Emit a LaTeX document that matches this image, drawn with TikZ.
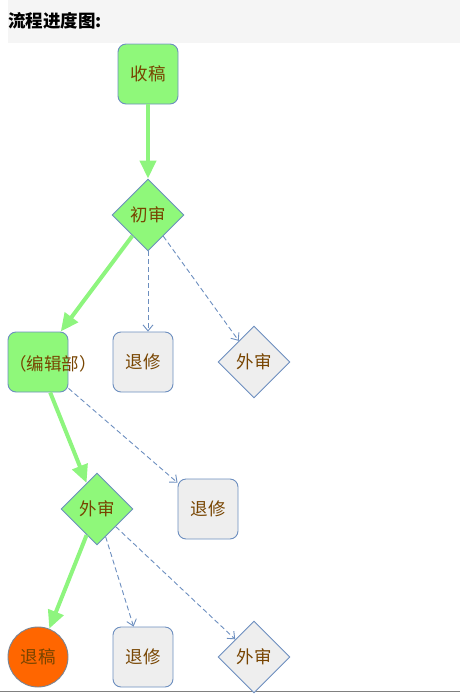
\documentclass[tikz,border=0pt]{standalone}
\usepackage{fontspec}
\newfontfamily\cjk{Noto Sans CJK SC}
\usetikzlibrary{shapes.geometric,arrows.meta}
\definecolor{gfill}{HTML}{8FF87A}
\definecolor{gline}{HTML}{8EF57E}
\definecolor{bord}{HTML}{6C8EBF}
\definecolor{txt}{HTML}{774400}
\definecolor{gray1}{HTML}{EEEEEE}
\definecolor{hdr}{HTML}{F5F5F5}
\definecolor{org}{HTML}{FF6600}
\tikzset{
  base/.style={draw=bord, line width=0.9pt, text=txt, font=\cjk\fontsize{17.5}{20}\selectfont, inner sep=0pt},
  gbox/.style={base, fill=gfill, rectangle, rounded corners=8pt, minimum width=60pt, minimum height=60pt},
  wbox/.style={base, fill=gray1, rectangle, rounded corners=8pt, minimum width=60pt, minimum height=60pt},
  gdia/.style={base, fill=gfill, diamond, minimum width=72pt, minimum height=72pt},
  wdia/.style={base, fill=gray1, diamond, minimum width=72pt, minimum height=72pt},
  circ/.style={base, fill=org, circle, minimum size=60pt, draw=gray!70!bord},
  garrow/.style={draw=gline, line width=4pt, -{Triangle[length=18pt,width=16pt]}},
  darrow/.style={draw=bord, line width=0.9pt, dash pattern=on 5pt off 3pt, -{Straight Barb[length=6pt,width=10pt]}},
}
\begin{document}
\begin{tikzpicture}[x=1pt,y=-1pt]
\useasboundingbox (0,0) rectangle (460,697);
\fill[hdr] (8,0) rectangle (460,43);
\node[anchor=west, inner sep=0pt, font=\cjk\bfseries\fontsize{17.5}{20}\selectfont] (title) at (8,21) {流程进度图:};
\draw[gray, line width=1pt] (0,691) -- (460,691);

\node[gbox] (shougao) at (148,74) {收稿};
\node[gdia] (chushen) at (148,215) {初审};
\node[gbox] (bianji) at (38,362) {};
\node[wbox] (tuixiu1) at (143,362) {退修};
\node[wdia] (waishen1) at (254,362) {外审};
\node[wbox] (tuixiu2) at (208,509) {退修};
\node[gdia] (waishen2) at (97,509) {外审};
\node[circ] (tuigao) at (38,657) {退稿};
\node[wbox] (tuixiu3) at (143,657) {退修};
\node[wdia] (waishen3) at (254,657) {外审};
\node[base, draw=none, anchor=west] (bjlabel) at (9,364) {（编辑部）};

\draw[garrow] (shougao) -- (chushen);
\draw[garrow] (chushen) -- (bianji);
\draw[darrow] (chushen.south) -- (chushen.south |- tuixiu1.north);
\draw[darrow] (chushen) -- (waishen1);
\draw[garrow] (bianji) -- (waishen2);
\draw[darrow] (bianji) -- (tuixiu2);
\draw[garrow] (waishen2) -- (tuigao);
\draw[darrow] (waishen2) -- (tuixiu3);
\draw[darrow] (waishen2) -- (waishen3);
\end{tikzpicture}
\end{document}
